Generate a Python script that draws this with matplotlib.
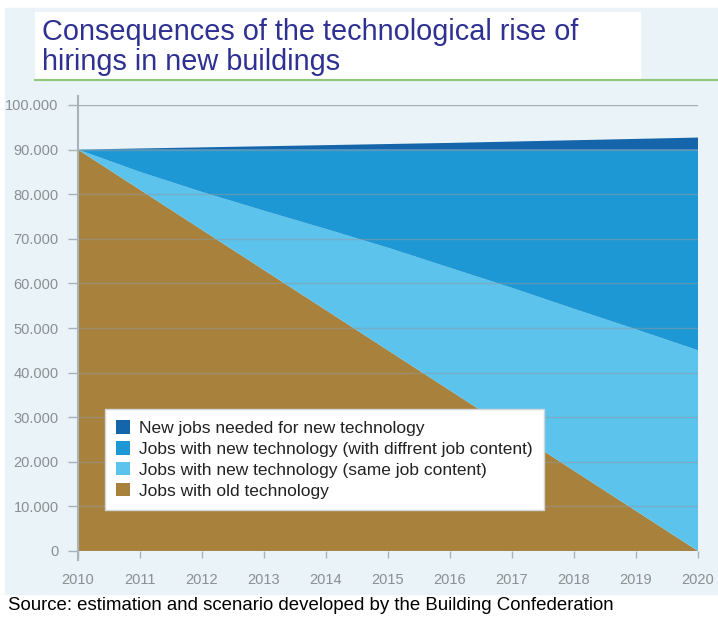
import matplotlib.pyplot as plt
from matplotlib.patches import Rectangle
from matplotlib.lines import Line2D
from matplotlib.ticker import FuncFormatter

plt.rcParams['font.family'] = ['Liberation Sans', 'DejaVu Sans']

years = [2010, 2011, 2012, 2013, 2014, 2015, 2016, 2017, 2018, 2019, 2020]
old_tech = [90000, 81000, 72000, 63000, 54000, 45000, 36000, 27000, 18000, 9000, 0]
# top of the light blue band (old + same content)
new_same_top = [90000, 85000, 80500, 76300, 72200, 68000, 63500, 59000, 54300, 49700, 45000]
total_existing = [90000] * 11
new_jobs = [0, 250, 500, 750, 1000, 1250, 1500, 1800, 2100, 2400, 2700]

same_content = [t - o for t, o in zip(new_same_top, old_tech)]
diff_content = [e - t for e, t in zip(total_existing, new_same_top)]

labels = ["Jobs with old technology",
          "Jobs with new technology (same job content)",
          "Jobs with new technology (with diffrent job content)",
          "New jobs needed for new technology"]
colors = ["#A8823D", "#5CC3EC", "#1E98D5", "#1565AA"]


def thousands(v, pos):
    return f"{int(v):,}".replace(",", ".")


def main():
    W, H = 718, 617
    fig = plt.figure(figsize=(W / 100, H / 100), dpi=100)
    fig.patch.set_facecolor("white")

    # light panel + title box
    fig.add_artist(Rectangle((5 / W, 1 - 594 / H), 713 / W, 586 / H,
                             transform=fig.transFigure, color="#EAF3F7", zorder=0))
    fig.add_artist(Rectangle((35 / W, 1 - 78 / H), 605 / W, 66 / H,
                             transform=fig.transFigure, color="white", zorder=1))
    fig.add_artist(Line2D([35 / W, 1.0], [1 - 80 / H, 1 - 80 / H],
                          transform=fig.transFigure, color="#8CC97A", lw=1.5, zorder=2))
    fig.text(42 / W, 1 - 32 / H, "Consequences of the technological rise of",
             fontsize=20.8, color="#2E3192", va="center", ha="left", zorder=3)
    fig.text(42 / W, 1 - 62 / H, "hirings in new buildings",
             fontsize=20.8, color="#2E3192", va="center", ha="left", zorder=3)
    fig.text(8 / W, 1 - 605 / H,
             "Source: estimation and scenario developed by the Building Confederation",
             fontsize=13.4, color="black", va="center", ha="left")

    ax = fig.add_axes([78 / W, (H - 551) / H, 620 / W, 446 / H])
    ax.set_facecolor("none")
    ax.stackplot(years, old_tech, same_content, diff_content, new_jobs,
                 colors=colors, labels=labels, zorder=2)
    ax.set_xlim(2010, 2020)
    ax.set_ylim(0, 100000)

    for v in range(0, 100001, 10000):
        ax.axhline(v, color="#8E9A9F", lw=1, alpha=0.5 if 0 < v < 90001 else 0.75,
                   zorder=3)
    ax.plot([2010, 2010], [-2000, 102000], color="#A9B3B7", lw=1.5,
            clip_on=False, zorder=4)

    for s in ax.spines.values():
        s.set_visible(False)
    ax.set_yticks(range(0, 100001, 10000))
    ax.yaxis.set_major_formatter(FuncFormatter(thousands))
    ax.set_xticks(years)
    ax.tick_params(axis="y", length=7, width=1, color="#A9B3B7",
                   labelcolor="#8A8F92", labelsize=10.5, pad=7)
    ax.tick_params(axis="x", length=5, width=1, color="#A9B3B7",
                   labelcolor="#8A8F92", labelsize=10.5, pad=11)

    handles, labs = ax.get_legend_handles_labels()
    leg = ax.legend(handles[::-1], labs[::-1], loc="lower left",
                    bbox_to_anchor=(27 / 620, 41 / 446), fontsize=12.5,
                    handlelength=0.8, handleheight=0.8, handletextpad=0.5,
                    labelspacing=0.3, borderpad=0.65, borderaxespad=0,
                    fancybox=False, framealpha=1, edgecolor="#D0D6D8")
    leg.set_zorder(5)
    for t in leg.get_texts():
        t.set_color("#222222")

    plt.savefig("out.png", dpi=100)


if __name__ == "__main__":
    main()
